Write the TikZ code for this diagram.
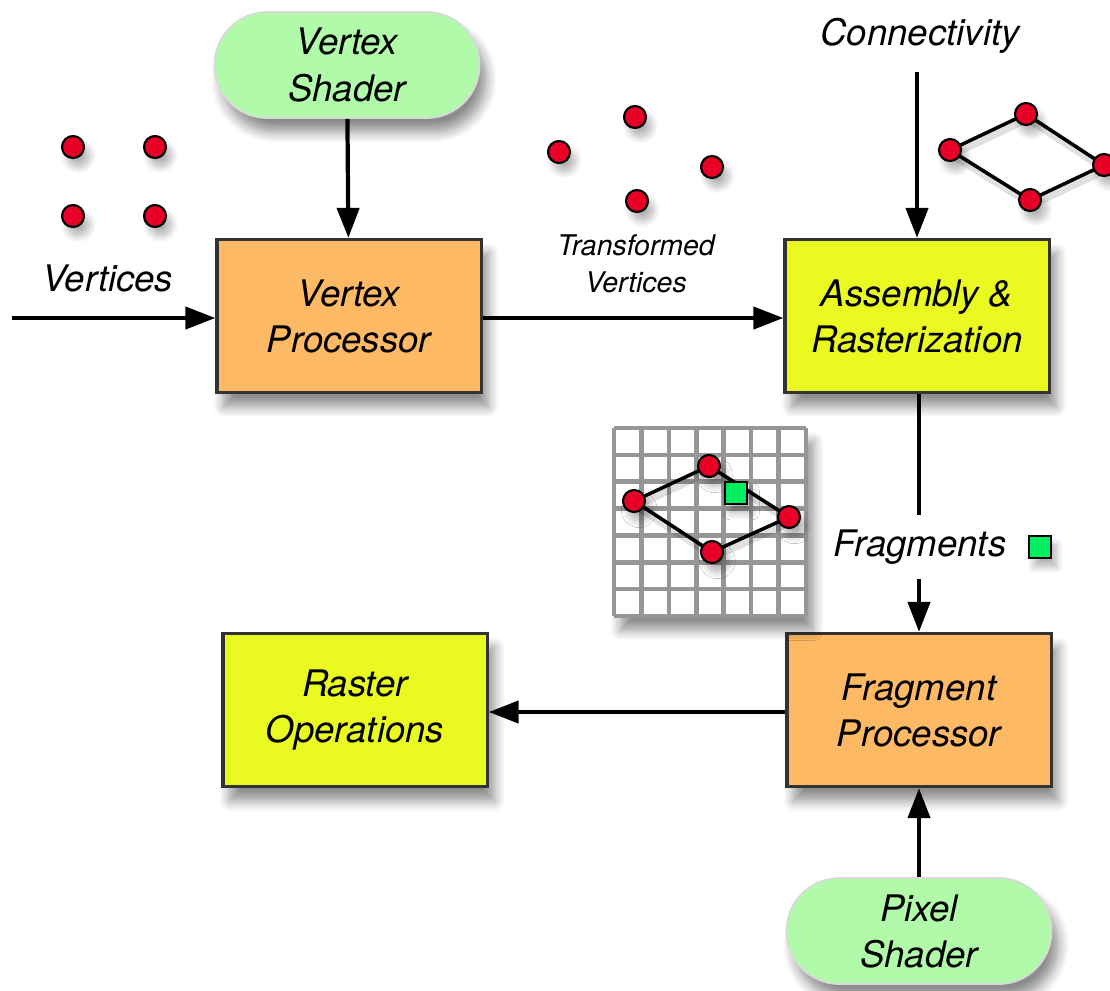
\documentclass[tikz,border=0pt]{standalone}
\usepackage{fontspec}
\setmainfont{TeX Gyre Heros}
\usetikzlibrary{arrows.meta,shadows.blur,positioning}
\definecolor{procorange}{RGB}{253,185,100}
\definecolor{rastyellow}{RGB}{234,250,32}
\definecolor{shadergreen}{RGB}{176,250,170}
\definecolor{vtxred}{RGB}{232,0,38}
\definecolor{fraggreen}{RGB}{0,238,95}
\definecolor{gridgray}{RGB}{150,150,150}
\tikzset{
  softshadow/.style={blur shadow={shadow xshift=2pt,shadow yshift=-4pt,shadow blur steps=8,shadow opacity=45,shadow blur radius=3pt}},
  smallshadow/.style={blur shadow={shadow xshift=1.5pt,shadow yshift=-2.5pt,shadow blur steps=10,shadow opacity=30,shadow blur radius=2pt}},
  stagebox/.style={draw=black!80,line width=0.9pt,minimum width=2.64cm,minimum height=1.53cm,
    align=center,font=\fontsize{10.4}{13.1}\selectfont\itshape,softshadow},
  shaderpill/.style={draw=black!15,line width=0.5pt,fill=shadergreen,rounded corners=0.53cm,
    minimum width=2.65cm,minimum height=1.06cm,align=center,
    font=\fontsize{10.4}{13.1}\selectfont\itshape,softshadow},
  flow/.style={line width=1.2pt,-{Triangle[length=0.3cm,width=0.22cm]}},
  plainflow/.style={line width=1.2pt},
  lbl/.style={font=\fontsize{10.4}{13.1}\selectfont\itshape,inner sep=1pt},
  vtx/.style={circle,draw=black,line width=0.6pt,fill=vtxred,minimum size=0.22cm,inner sep=0pt,smallshadow},
  frag/.style={draw=black,line width=0.6pt,fill=fraggreen,minimum size=0.22cm,inner sep=0pt,smallshadow},
  edgeline/.style={line width=1pt,black},
  edgeshade/.style={line width=2.5pt,black,opacity=0.12},
}
\begin{document}
\begin{tikzpicture}[x=0.01cm,y=-0.01cm]
\useasboundingbox (0,0) rectangle (1110,990);

% pipeline stages
\node[shaderpill] (vshader) at (347,65) {Vertex\\Shader};
\node[stagebox,fill=procorange] (vproc) at (349,316) {Vertex\\Processor};
\node[stagebox,fill=rastyellow] (asm) at (917,316) {Assembly \&\\Rasterization};
\node[stagebox,fill=procorange] (fproc) at (919,710) {Fragment\\Processor};
\node[stagebox,fill=rastyellow] (rops) at (355,710) {Raster\\Operations};
\node[shaderpill] (pshader) at (919,931) {Pixel\\Shader};

% labels
\coordinate (vin) at (12,318);
\node[lbl] (vertlbl) at (108,278) {Vertices};
\node[lbl,font=\fontsize{8.1}{10.6}\selectfont\itshape,align=center] (tvlbl) at (636,264) {Transformed\\Vertices};
\node[lbl,inner sep=0pt] (conn) at (920,36) {Connectivity};
\coordinate (connend) at (917,72);
\node[lbl,inner sep=4pt] (fraglbl) at (920,547) {Fragments};
\node[frag] (fragsq) at (1040,547) {};

% connectors
\draw[flow] (vin) -- (vproc.west |- vin);
\draw[flow] (vshader) -- (vproc);
\draw[flow] (vproc.east |- vin) -- (asm.west |- vin);
\draw[flow] (connend) -- (connend |- asm.north);
\draw[plainflow] (asm.south -| fproc) -- (fraglbl.north -| fproc);
\draw[flow] (fraglbl.south -| fproc) -- (fproc.north);
\draw[flow] (fproc.west |- 0,712) -- (rops.east |- 0,712);
\draw[flow] (pshader) -- (fproc);

% incoming vertices
\foreach \n/\x/\y in {a/73/147,b/155/147,c/73/216,d/155/216}
  \node[vtx] (in\n) at (\x,\y) {};

% transformed vertices
\foreach \n/\x/\y in {a/635/117,b/559/152,c/712/167,d/637/201}
  \node[vtx] (tv\n) at (\x,\y) {};

% assembled primitive
\coordinate (pl) at (950,150);
\coordinate (pt) at (1026,114);
\coordinate (pr) at (1104,165);
\coordinate (pb) at (1030,200);
\draw[edgeshade] ([shift={(2,4)}]pl) -- ([shift={(2,4)}]pt) -- ([shift={(2,4)}]pr) -- ([shift={(2,4)}]pb) -- cycle;
\draw[edgeline] (pl) -- (pt) -- (pr) -- (pb) -- cycle;
\foreach \n in {l,t,r,b} \node[vtx] (prim\n) at (p\n) {};

% rasterization grid
\fill[white,softshadow] (614,428) rectangle (806,616);
\foreach \i in {0,...,7} {
  \draw[gridgray,line width=1.3pt] ({614+\i*192/7},428) -- ({614+\i*192/7},616);
  \draw[gridgray,line width=1.3pt] (614,{428+\i*188/7}) -- (806,{428+\i*188/7});
}
\coordinate (gl) at (634,501);
\coordinate (gt) at (709,466);
\coordinate (gr) at (789,517);
\coordinate (gb) at (712,552);
\draw[edgeshade] ([shift={(2,4)}]gl) -- ([shift={(2,4)}]gt) -- ([shift={(2,4)}]gr) -- ([shift={(2,4)}]gb) -- cycle;
\draw[edgeline] (gl) -- (gt) -- (gr) -- (gb) -- cycle;
\node[frag] (gridfrag) at (736,493) {};
\foreach \n in {l,t,r,b} \node[vtx] (grid\n) at (g\n) {};
\end{tikzpicture}
\end{document}
